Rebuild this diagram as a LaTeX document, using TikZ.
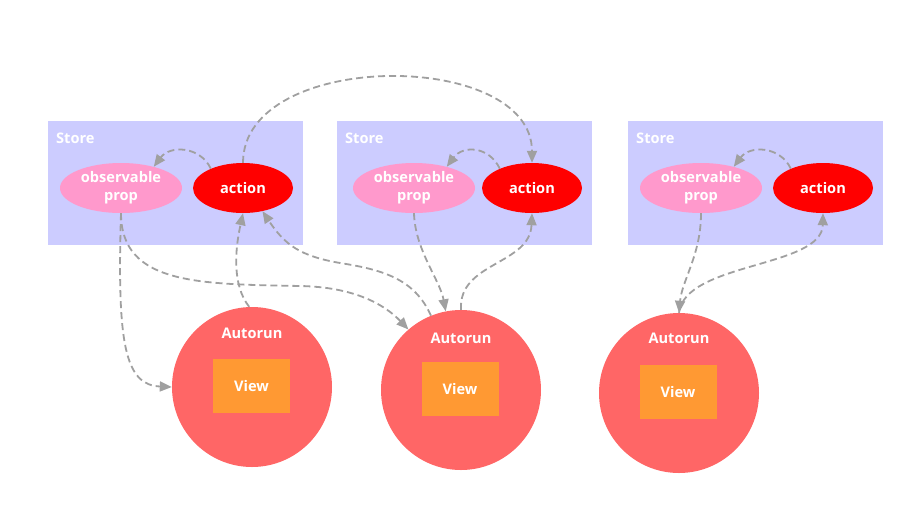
\documentclass[tikz,border=0pt]{standalone}
\usepackage{fontspec}
\setmainfont{Open Sans}
\usetikzlibrary{shapes.geometric,arrows.meta}
\definecolor{storec}{HTML}{CCCCFF}
\definecolor{obsc}{HTML}{FF99CC}
\definecolor{actc}{HTML}{FF0000}
\definecolor{autoc}{HTML}{FF6666}
\definecolor{viewc}{HTML}{FF9933}
\definecolor{edgec}{HTML}{A0A0A0}
\newcommand{\lblfont}{\bfseries\fontsize{14.6}{18}\selectfont}
\tikzset{
  storebox/.style={fill=storec,draw=none,minimum width=255pt,minimum height=124pt,inner sep=0pt,anchor=north west},
  storelbl/.style={text=white,font=\lblfont,anchor=west,inner sep=0pt},
  obsnode/.style={ellipse,fill=obsc,draw=none,minimum width=122pt,minimum height=50pt,inner sep=0pt,text=white,align=center,font=\lblfont},
  actnode/.style={ellipse,fill=actc,draw=none,minimum width=100pt,minimum height=50pt,inner sep=0pt,text=white,font=\lblfont},
  autonode/.style={circle,fill=autoc,draw=none,minimum size=160pt,inner sep=0pt},
  autolbl/.style={text=white,font=\lblfont,inner sep=0pt},
  viewnode/.style={rectangle,fill=viewc,draw=none,minimum width=77pt,minimum height=54pt,inner sep=0pt,text=white,font=\lblfont},
  flow/.style={draw=edgec,line width=1.8pt,dash pattern=on 7pt off 4pt,-{Triangle[length=12pt,width=10pt]}}
}
\begin{document}
\begin{tikzpicture}[x=1pt,y=-1pt]
\useasboundingbox (0,0) rectangle (916,504);
% stores
\node[storebox] (s1) at (48,121) {};
\node[storebox] (s2) at (337,121) {};
\node[storebox] (s3) at (628,121) {};
\node[storelbl] (sl1) at (56,138) {Store};
\node[storelbl] (sl2) at (345,138) {Store};
\node[storelbl] (sl3) at (636,138) {Store};
\node[obsnode] (o1) at (121,188) {observable\\prop};
\node[actnode] (a1) at (243,188) {action};
\node[obsnode] (o2) at (414,188) {observable\\prop};
\node[actnode] (a2) at (532,188) {action};
\node[obsnode] (o3) at (701,188) {observable\\prop};
\node[actnode] (a3) at (823,188) {action};
% autoruns
\node[autonode] (r1) at (252,387) {};
\node[autonode] (r2) at (461,390) {};
\node[autonode] (r3) at (679,393) {};
\node[autolbl] (rl1) at (252,333) {Autorun};
\node[autolbl] (rl2) at (461,338) {Autorun};
\node[autolbl] (rl3) at (679,338) {Autorun};
\node[viewnode] (v1) at (251.5,386) {View};
\node[viewnode] (v2) at (460,389) {View};
\node[viewnode] (v3) at (678,392) {View};
% edges
\draw[flow] (a1.north) .. controls (243,49) and (532,49) .. (a2.north);
\draw[flow] (a1.149) .. controls (200,146) and (170,145) .. (o1.33);
\draw[flow] (a2.149) .. controls (489,146) and (463,145) .. (o2.33);
\draw[flow] (a3.149) .. controls (780,146) and (750,145) .. (o3.33);
\draw[flow] (o1.south) .. controls (117,345) and (125,385) .. (r1.180);
\draw[flow] (o1.south) .. controls (121,285) and (200,284) .. (300,286) .. controls (355,287) and (385,305) .. (r2.131);
\draw[flow] (r1.92) .. controls (232,285) and (235,250) .. (a1.south);
\draw[flow] (r2.112) .. controls (415,280) and (385,270) .. (340,263) .. controls (300,256) and (285,245) .. (a1.-50);
\draw[flow] (o2.south) .. controls (415,250) and (440,280) .. (r2.101);
\draw[flow] (r2.north) .. controls (458,262) and (530,265) .. (a2.south);
\draw[flow] (o3.south) .. controls (701,255) and (682,280) .. (r3.north);
\draw[flow] (r3.north) .. controls (685,262) and (822,268) .. (a3.south);
\end{tikzpicture}
\end{document}
